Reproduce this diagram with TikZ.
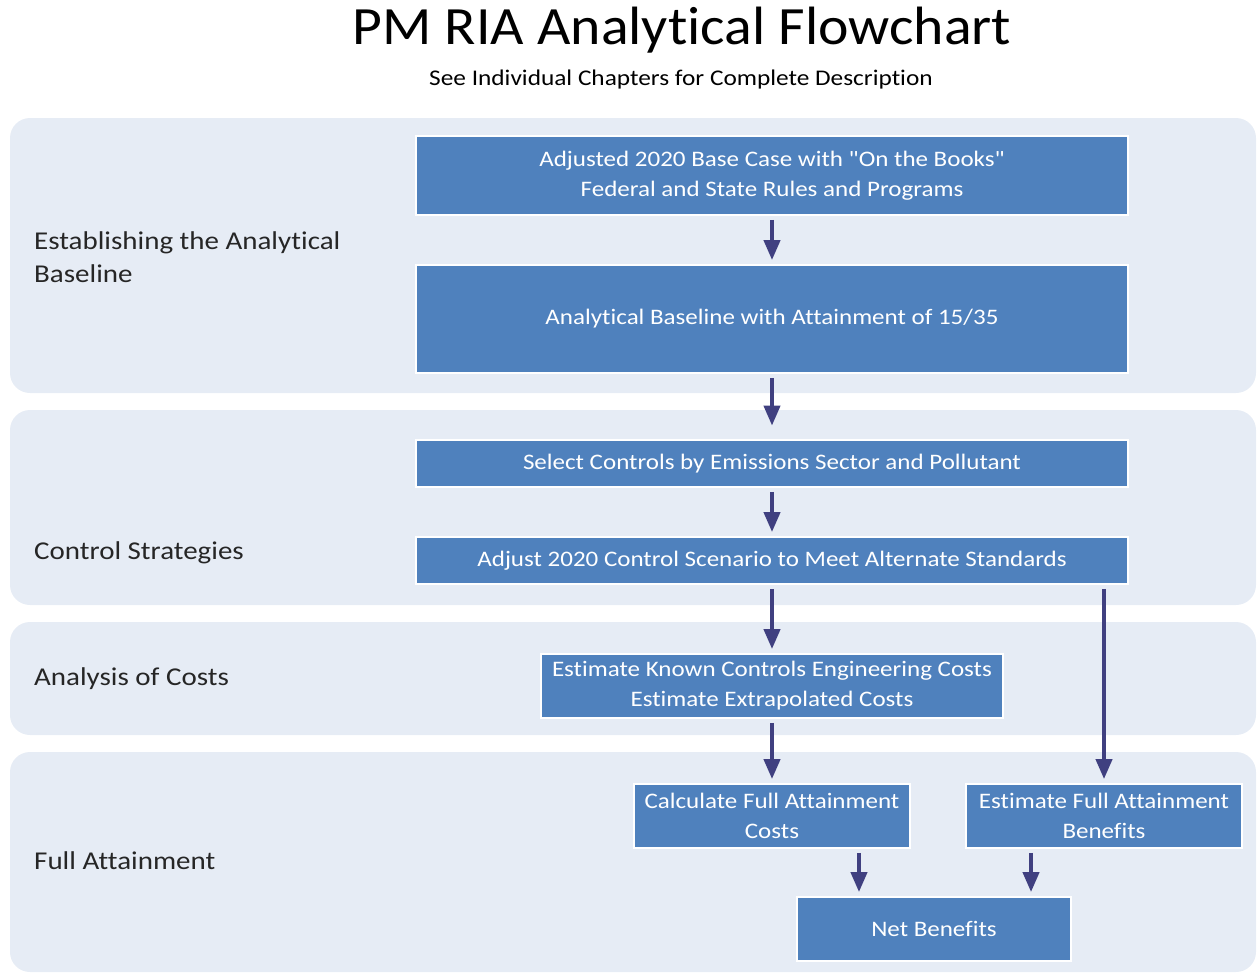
\documentclass[tikz,border=0pt]{standalone}
\usepackage{fontspec}
\setmainfont{Carlito}[FakeStretch=1.13, Ligatures={TeXOff,NoCommon}]
\newfontfamily\titlefont{Carlito}[FakeStretch=1.07, Ligatures=NoCommon]
\usetikzlibrary{arrows.meta}
\usepackage{xcolor}
\definecolor{panelfill}{RGB}{230,236,245}
\definecolor{boxfill}{RGB}{79,129,189}
\definecolor{arrowcol}{RGB}{64,64,128}

\begin{document}
\begin{tikzpicture}[x=0.02cm, y=-0.02cm,
	box/.style={draw=white, line width=1.6pt, fill=boxfill, text=white, inner sep=0pt, align=center, font=\fontsize{12.6}{17}\selectfont},
	panel/.style={fill=panelfill, rounded corners=0.4cm},
	lane/.style={anchor=west, align=left, text=black!85, font=\fontsize{14.6}{19}\selectfont},
	flow/.style={draw=arrowcol, line width=2.3pt, -{Triangle[length=0.4cm, width=0.32cm]}, shorten <=2pt, shorten >=2pt}]
	\useasboundingbox (0,0) rectangle (1257,975);
	% panels
	\fill[panel] (10,118) rectangle (1256,393);
	\fill[panel] (10,410) rectangle (1256,605);
	\fill[panel] (10,622) rectangle (1256,735);
	\fill[panel] (10,752) rectangle (1256,972);
	% titles
	\node (title) at (682,30) {\titlefont\fontsize{30.7}{34}\selectfont PM RIA Analytical Flowchart};
	\node (sub) at (681,80) {\fontsize{12.75}{15}\selectfont See Individual Chapters for Complete Description};
	% lane labels
	\node (l1) [lane] at (28,257) {Establishing the Analytical\\Baseline};
	\node (l2) [lane] at (28,553) {Control Strategies};
	\node (l3) [lane] at (28,679) {Analysis of Costs};
	\node (l4) [lane] at (28,861) {Full Attainment};
	% boxes
	\node (b1) [box, minimum width=14.24cm, minimum height=1.58cm] at (772,175.5) {Adjusted 2020 Base Case with "On the Books"\\Federal and State Rules and Programs};
	\node (b2) [box, minimum width=14.24cm, minimum height=2.16cm] at (772,319) {Analytical Baseline with Attainment of 15/35};
	\node (b3) [box, minimum width=14.24cm, minimum height=0.94cm] at (772,463.5) {Select Controls by Emissions Sector and Pollutant};
	\node (b4) [box, minimum width=14.24cm, minimum height=0.94cm] at (772,560.5) {Adjust 2020 Control Scenario to Meet Alternate Standards};
	\node (b5) [box, minimum width=9.24cm, minimum height=1.28cm] at (772,686) {Estimate Known Controls Engineering Costs\\Estimate Extrapolated Costs};
	\node (b6) [box, minimum width=5.52cm, minimum height=1.28cm] at (772,816) {Calculate Full Attainment\\Costs};
	\node (b7) [box, minimum width=5.52cm, minimum height=1.28cm] at (1104,816) {Estimate Full Attainment\\Benefits};
	\node (b8) [box, minimum width=5.48cm, minimum height=1.28cm] at (934,929) {Net Benefits};
	% arrows
	\draw[flow] (b1) -- (b2);
	\draw[flow, shorten >=0.26cm] (b2) -- (b3);
	\draw[flow] (b3) -- (b4);
	\draw[flow] (b4) -- (b5);
	\draw[flow] (b4.south -| b7.north) -- (b7.north);
	\draw[flow] (b5) -- (b6);
	\draw[flow] ([xshift=1.74cm]b6.south) -- ([xshift=1.74cm]b6.south |- b8.north);
	\draw[flow] ([xshift=-1.46cm]b7.south) -- ([xshift=-1.46cm]b7.south |- b8.north);
\end{tikzpicture}
\end{document}
